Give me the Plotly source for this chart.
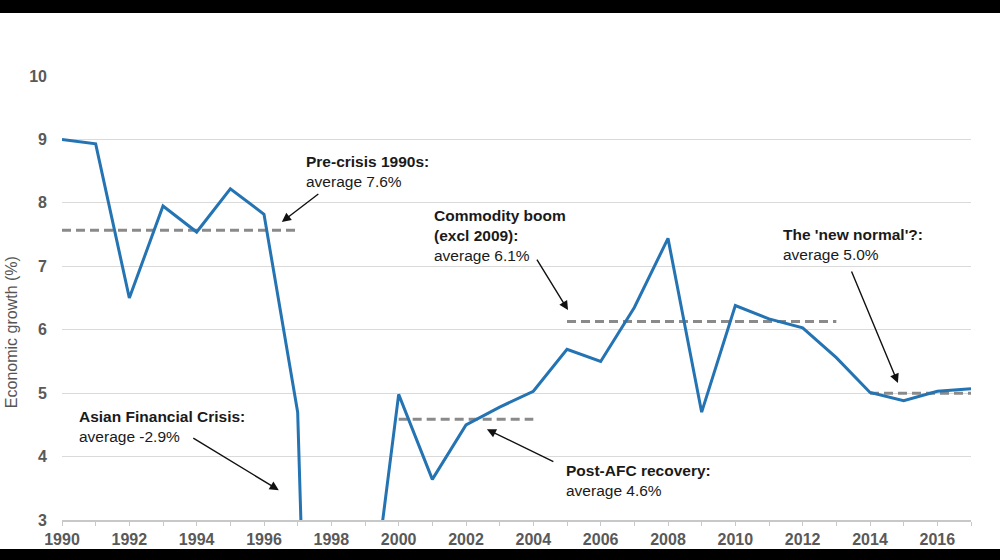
import plotly.graph_objects as go

years = list(range(1990, 2018))
growth = [9.00, 8.93, 6.50, 7.95, 7.54, 8.22, 7.82, 4.70, -13.13, 0.79,
          4.98, 3.64, 4.50, 4.78, 5.03, 5.69, 5.50, 6.35, 7.44, 4.70,
          6.38, 6.17, 6.03, 5.56, 5.01, 4.88, 5.03, 5.07]

avg_labels = ["Pre-crisis", "Post-AFC", "Commodity boom", "New normal"]
avg_start = [1990, 2000, 2005, 2014]
avg_end = [1997, 2004, 2013, 2017]
avg_value = [7.57, 4.59, 6.13, 5.00]

x_tickvals = list(range(1990, 2017, 2))
y_tickvals = list(range(3, 11))

fig = go.Figure()

for lab, s, e, v in zip(avg_labels, avg_start, avg_end, avg_value):
    fig.add_trace(go.Scatter(x=[s, e], y=[v, v], mode="lines", name=lab,
                             line=dict(color="#8a8a8a", width=3, dash="9px,5px"),
                             showlegend=False, hoverinfo="skip"))

fig.add_trace(go.Scatter(x=years, y=growth, mode="lines", name="Growth",
                         line=dict(color="#2473b3", width=3), showlegend=False))

tick_font = dict(family="Liberation Sans, Arial, sans-serif", size=16,
                 color="#595959", weight="bold")

fig.update_layout(
    width=1000, height=560,
    margin=dict(l=62, r=29, t=76, b=40),
    paper_bgcolor="white", plot_bgcolor="white",
    font=dict(family="Liberation Sans, Arial, sans-serif"),
    xaxis=dict(range=[1990, 2017], tickvals=x_tickvals, ticktext=[str(v) for v in x_tickvals],
               showgrid=False, showline=True, linecolor="#c8c8c8", linewidth=1.5,
               ticks="outside", ticklen=4, tickcolor="#c8c8c8",
               minor=dict(dtick=1, ticks="outside", ticklen=4, tickcolor="#c8c8c8"),
               tickfont=tick_font, zeroline=False),
    yaxis=dict(range=[3, 10], tickvals=y_tickvals, showgrid=True, gridcolor="#dadada",
               gridwidth=1.2, zeroline=False, showline=False, ticks="",
               ticklabelstandoff=14, tickfont=tick_font),
)

# Black letterbox bands
fig.add_shape(type="rect", xref="paper", yref="paper", x0=-0.1, x1=1.1,
              y0=(520 - 13) / 444, y1=1.3, fillcolor="black", line_width=0, layer="above")
fig.add_shape(type="rect", xref="paper", yref="paper", x0=-0.1, x1=1.1,
              y0=-0.3, y1=(520 - 549) / 444, fillcolor="black", line_width=0, layer="above")

# Y axis title
fig.add_annotation(text="Economic growth (%)", xref="paper", yref="paper",
                   x=(11 - 62) / 909, y=0.423, textangle=-90, showarrow=False,
                   font=dict(size=16, color="#555555"), xanchor="center", yanchor="middle")

labels = [
    ("Pre-crisis 1990s:", "average 7.6%", 1997.19, 8.49),
    ("Commodity boom<br>(excl 2009):", "average 6.1%", 2000.99, 7.48),
    ("The 'new normal'?:", "average 5.0%", 2011.35, 7.34),
    ("Asian Financial Crisis:", "average -2.9%", 1990.45, 4.48),
    ("Post-AFC recovery:", "average 4.6%", 2004.91, 3.63),
]
for bold, reg, x, y in labels:
    fig.add_annotation(text=f"<b>{bold}</b><br>{reg}", x=x, y=y, xref="x", yref="y",
                       showarrow=False, xanchor="left", yanchor="middle", align="left",
                       font=dict(size=15.5, color="#1a1a1a"))

arrows = [
    (1996.53, 7.70, 38, -29),
    (2005.03, 6.31, -32, -52),
    (2014.83, 5.16, -47, -113),
    (1996.44, 3.47, -87, -53),
    (2002.62, 4.43, 68, 33),
]
for x, y, ax, ay in arrows:
    fig.add_annotation(text="", x=x, y=y, xref="x", yref="y", ax=ax, ay=ay,
                       showarrow=True, arrowhead=2, arrowsize=1.3, arrowwidth=1.4,
                       arrowcolor="#111111")

fig.write_html("out.html", config={"displayModeBar": False},
               post_script="document.body.style.margin='0';document.body.style.overflow='hidden';")
